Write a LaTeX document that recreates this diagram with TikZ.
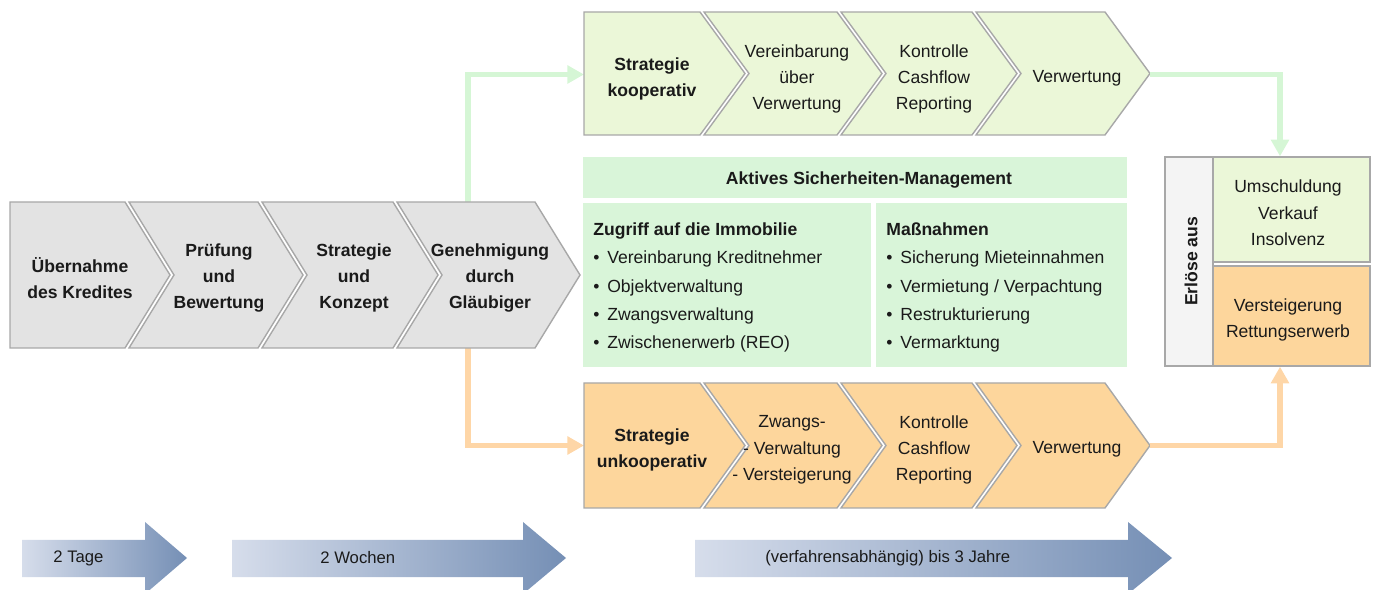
\documentclass[tikz,border=0pt]{standalone}
\usepackage{fontspec}
\setmainfont{Liberation Sans}
\usepackage{tikz}
\usetikzlibrary{arrows.meta, positioning}
\definecolor{chevgray}{RGB}{227,227,227}
\definecolor{rimgray}{RGB}{168,168,168}
\definecolor{koopgreen}{RGB}{235,247,216}
\definecolor{unkoooporange}{RGB}{253,214,156}
\definecolor{mintgreen}{RGB}{217,245,217}
\definecolor{erlgray}{RGB}{244,244,244}
\definecolor{linegreen}{RGB}{213,246,213}
\definecolor{lineorange}{RGB}{254,214,167}
\definecolor{timelight}{RGB}{214,221,235}
\definecolor{timedark}{RGB}{117,143,181}
\definecolor{textdark}{RGB}{26,26,26}

% chevron without / with notch: style, left, right, top, bottom
\newcommand{\chevfirst}[5]{\draw[#1] (#2,#4) -- (#3,#4) -- ({#3+45},{(#4+#5)/2}) -- (#3,#5) -- (#2,#5) -- cycle;}
\newcommand{\chevnext}[5]{\draw[#1] (#2,#4) -- (#3,#4) -- ({#3+45},{(#4+#5)/2}) -- (#3,#5) -- (#2,#5) -- ({#2+45},{(#4+#5)/2}) -- cycle;}
% time arrow: left, head start, tip
\newcommand{\timearrow}[3]{\shade[left color=timelight, right color=timedark] (#1,540) -- (#2,540) -- (#2,522) -- (#3,558) -- (#2,594) -- (#2,577) -- (#1,577) -- cycle;}

\begin{document}
\begin{tikzpicture}[
    x=0.02cm, y=-0.02cm,
    chev/.style={draw=rimgray, line width=0.8pt, line join=miter},
    chevtext/.style={align=center, text=textdark, font=\fontsize{10}{15}\selectfont},
    chevbold/.style={chevtext, font=\fontsize{10}{15}\selectfont\bfseries},
    box/.style={fill=mintgreen, inner sep=0pt, text=textdark, font=\fontsize{10}{15}\selectfont},
    list/.style={anchor=north west, align=left, inner sep=0pt, text=textdark, font=\fontsize{10}{16.2}\selectfont},
    sidebox/.style={draw=rimgray, line width=0.8pt, inner sep=0pt, align=center, text=textdark, font=\fontsize{10}{15}\selectfont},
    timetext/.style={anchor=west, inner sep=0pt, text=textdark, font=\fontsize{9.5}{12}\selectfont},
    conn/.style={line width=3pt, line join=miter, -{Triangle[width=10pt,length=9.5pt]}}
]
    \useasboundingbox (0,0) rectangle (1375,590);

    % anchor points for the connectors
    \coordinate (genoben) at (468,202);
    \coordinate (genunten) at (468,348);
    \coordinate (koopwest) at (584,74.5);
    \coordinate (unkoopwest) at (584,445.5);
    \coordinate (koopspitze) at (1150,74.5);
    \coordinate (unkoopspitze) at (1150,445.5);

    \draw[conn, draw=linegreen, color=linegreen] (genoben) |- (koopwest);
    \draw[conn, draw=lineorange, color=lineorange] (genunten) |- (unkoopwest);

    % Abwicklung
    \chevfirst{chev, fill=chevgray}{10}{125}{202}{348}
    \chevnext{chev, fill=chevgray}{129}{258}{202}{348}
    \chevnext{chev, fill=chevgray}{262}{393}{202}{348}
    \chevnext{chev, fill=chevgray}{397}{535}{202}{348}
    \node[chevbold] (uebernahme) at (80,278) {Übernahme\\des Kredites};
    \node[chevbold] (pruefung) at (219,278) {Prüfung\\und\\Bewertung};
    \node[chevbold] (konzept) at (354,278) {Strategie\\und\\Konzept};
    \node[chevbold] (genehmigung) at (490,278) {Genehmigung\\durch\\Gläubiger};

    % kooperativ
    \chevfirst{chev, fill=koopgreen}{584}{700}{12}{135}
    \chevnext{chev, fill=koopgreen}{704}{837}{12}{135}
    \chevnext{chev, fill=koopgreen}{841}{972}{12}{135}
    \chevnext{chev, fill=koopgreen}{976}{1105}{12}{135}
    \node[chevbold] (koop) at (652,79) {Strategie\\kooperativ};
    \node[chevtext] (vereinbarung) at (797,79) {Vereinbarung\\über\\Verwertung};
    \node[chevtext] (kontrollekoop) at (934,79) {Kontrolle\\Cashflow\\Reporting};
    \node[chevtext] (verwertungkoop) at (1077,78) {Verwertung};

    % unkooperativ
    \chevfirst{chev, fill=unkoooporange}{584}{700}{383}{508}
    \chevnext{chev, fill=unkoooporange}{704}{837}{383}{508}
    \chevnext{chev, fill=unkoooporange}{841}{972}{383}{508}
    \chevnext{chev, fill=unkoooporange}{976}{1105}{383}{508}
    \node[chevbold] (unkoop) at (652,450) {Strategie\\unkooperativ};
    \node[chevtext] (zwangs) at (792,450) {Zwangs-\\- Verwaltung\\- Versteigerung};
    \node[chevtext] (kontrolleunkoop) at (934,450) {Kontrolle\\Cashflow\\Reporting};
    \node[chevtext] (verwertungunkoop) at (1077,449) {Verwertung};

    % Sicherheiten-Management
    \node[box, minimum width=10.88cm, minimum height=0.82cm, font=\fontsize{10}{15}\selectfont\bfseries] (management) at (855,177.5) {};
    \node[text=textdark, font=\fontsize{10}{15}\selectfont\bfseries] (managementtext) at (869,180.5) {Aktives Sicherheiten-Management};
    \node[box, minimum width=5.76cm, minimum height=3.28cm] (zugriff) at (727,285) {};
    \node[box, minimum width=5.02cm, minimum height=3.28cm] (massnahmen) at (1001.5,285) {};
    \node[list] (zugriffliste) at (593,222) {\textbf{Zugriff auf die Immobilie}\\
        •\, Vereinbarung Kreditnehmer\\
        •\, Objektverwaltung\\
        •\, Zwangsverwaltung\\
        •\, Zwischenerwerb (REO)};
    \node[list] (massnahmenliste) at (886,222) {\textbf{Maßnahmen}\\
        •\, Sicherung Mieteinnahmen\\
        •\, Vermietung / Verpachtung\\
        •\, Restrukturierung\\
        •\, Vermarktung};

    % Erloese
    \node[sidebox, fill=erlgray, minimum width=0.96cm, minimum height=4.18cm] (erloese) at (1189,261.5) {};
    \node[rotate=90, text=textdark, font=\fontsize{10}{15}\selectfont\bfseries] (erloesetext) at (1191,261.5) {Erlöse aus};
    \node[sidebox, fill=koopgreen, minimum width=3.14cm, minimum height=2.1cm] (gruen) at (1291.5,209.5) {};
    \node[chevtext] (gruentext) at (1288,213) {Umschuldung\\Verkauf\\Insolvenz};
    \node[sidebox, fill=unkoooporange, minimum width=3.14cm, minimum height=2cm] (orange) at (1291.5,316) {};
    \node[chevtext] (orangetext) at (1288,320) {Versteigerung\\Rettungserwerb};

    \draw[conn, draw=linegreen, color=linegreen] (koopspitze) -| ([xshift=-0.23cm]gruen.north);
    \draw[conn, draw=lineorange, color=lineorange] (unkoopspitze) -| ([xshift=-0.23cm]orange.south);

    % Zeitachse
    \timearrow{22}{145}{187}
    \timearrow{232}{523}{566}
    \timearrow{695}{1128}{1172}
    \node[timetext] (tage) at (53,558) {2 Tage};
    \node[timetext] (wochen) at (320,558) {2 Wochen};
    \node[timetext] (jahre) at (765,558) {(verfahrensabhängig) bis 3 Jahre};
\end{tikzpicture}
\end{document}
